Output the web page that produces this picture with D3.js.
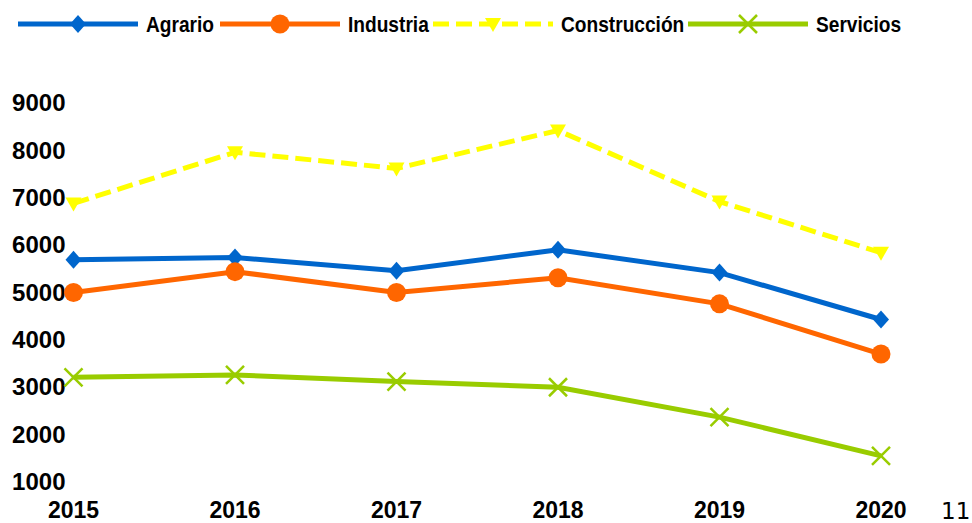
<!DOCTYPE html>
<html>
<head>
<meta charset="utf-8">
<script src="https://cdn.jsdelivr.net/npm/d3@7"></script>
<style>
  body { margin: 0; background: #fff; }
  .axis text { font-family: "Liberation Sans", Arial, sans-serif; font-weight: bold; font-size: 24px; fill: #000; }
  .xlabels text { font-size: 23px; }
  .legend text { font-family: "Liberation Sans", Arial, sans-serif; font-weight: bold; font-size: 22px; fill: #000; }
  .pagenum { font-family: "DejaVu Sans", sans-serif; font-size: 23px; fill: #000; }
</style>
</head>
<body>
<script>
var years = ["2015", "2016", "2017", "2018", "2019", "2020"];
var yTicks = [1000, 2000, 3000, 4000, 5000, 6000, 7000, 8000, 9000];

var agrario      = [5690, 5740, 5460, 5900, 5420, 4430];
var industria    = [5000, 5440, 5000, 5310, 4760, 3700];
var construccion = [6880, 7960, 7620, 8420, 6920, 5840];
var servicios    = [3210, 3260, 3120, 3000, 2370, 1550];

var seriesNames = ["Agrario", "Industria", "Construcción", "Servicios"];

var width = 972, height = 523;

// series drawing styles
var series = [
  {name: seriesNames[0], values: agrario,      color: "#0066CC", dash: null,   marker: "diamond"},
  {name: seriesNames[1], values: industria,    color: "#FF6600", dash: null,   marker: "circle"},
  {name: seriesNames[2], values: construccion, color: "#FFFF00", dash: "16,7", marker: "triangle"},
  {name: seriesNames[3], values: servicios,    color: "#99CC00", dash: null,   marker: "cross"}
];

var svg = d3.select("body").append("svg")
    .attr("width", width)
    .attr("height", height);

var x = d3.scalePoint().domain(years).range([73.5, 881]);
var y = d3.scaleLinear().domain([1000, 9000]).range([482, 103]);

// y axis, labels only
svg.append("g")
    .attr("class", "axis")
    .attr("transform", "translate(73.5,0)")
    .call(d3.axisLeft(y).tickValues(yTicks).tickSize(0).tickPadding(8).tickFormat(d3.format("d")))
    .call(function(g) { g.select(".domain").remove(); });

// x axis labels
svg.append("g")
    .attr("class", "axis xlabels")
    .selectAll("text")
    .data(years)
    .enter().append("text")
    .attr("x", function(d) { return x(d); })
    .attr("y", 518)
    .attr("text-anchor", "middle")
    .text(function(d) { return d; });

var line = d3.line()
    .x(function(d, i) { return x(years[i]); })
    .y(function(d) { return y(d); });

function drawMarker(g, type, color, cx, cy) {
  if (type == "diamond") {
    g.append("path")
      .attr("d", "M0,-9L8,0L0,9L-8,0Z")
      .attr("transform", "translate(" + cx + "," + cy + ")")
      .attr("fill", color);
  } else if (type == "circle") {
    g.append("circle").attr("cx", cx).attr("cy", cy).attr("r", 9.5).attr("fill", color);
  } else if (type == "triangle") {
    g.append("path")
      .attr("d", "M-8,-6L8,-6L0,8Z")
      .attr("transform", "translate(" + cx + "," + cy + ")")
      .attr("fill", color);
  } else {
    g.append("path")
      .attr("d", "M-9,-9L9,9M-9,9L9,-9")
      .attr("transform", "translate(" + cx + "," + cy + ")")
      .attr("stroke", color)
      .attr("stroke-width", 2.5)
      .attr("fill", "none");
  }
}

series.forEach(function(s) {
  var g = svg.append("g").attr("class", "series");
  g.append("path")
    .datum(s.values)
    .attr("d", line)
    .attr("fill", "none")
    .attr("stroke", s.color)
    .attr("stroke-width", 5)
    .attr("stroke-dasharray", s.dash);
  s.values.forEach(function(v, i) {
    drawMarker(g, s.marker, s.color, x(years[i]), y(v));
  });
});

// legend across the top
var legendX = [18, 220, 433, 688];
var legend = svg.append("g").attr("class", "legend");
series.forEach(function(s, i) {
  var lx = legendX[i], ly = 24;
  legend.append("line")
    .attr("x1", lx).attr("x2", lx + 120)
    .attr("y1", ly).attr("y2", ly)
    .attr("stroke", s.color)
    .attr("stroke-width", 5)
    .attr("stroke-dasharray", s.dash);
  drawMarker(legend, s.marker, s.color, lx + 60, ly);
  // squeeze the text a bit, the original font is narrower
  legend.append("text")
    .attr("transform", "translate(" + (lx + 128) + "," + (ly + 8) + ") scale(0.87,1)")
    .text(s.name);
});

svg.append("text")
    .attr("class", "pagenum")
    .attr("x", 941)
    .attr("y", 519)
    .text("11");
</script>
</body>
</html>
